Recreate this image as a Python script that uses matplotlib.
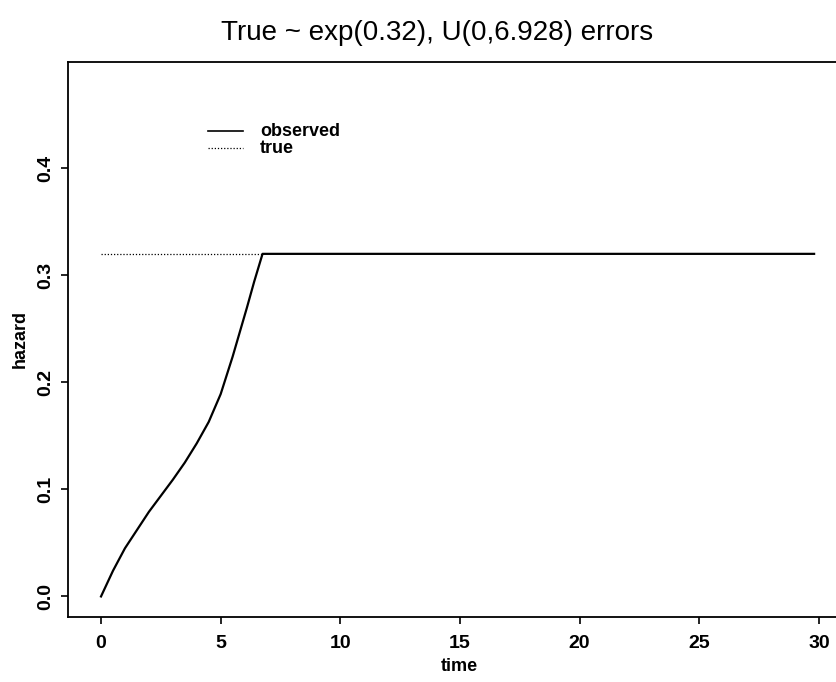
import matplotlib
matplotlib.use("Agg")
import matplotlib.pyplot as plt

plt.rcParams['font.family'] = ['Liberation Sans', 'DejaVu Sans']

# observed hazard
obs_time = [0, 0.5, 1.0, 1.5, 2.0, 2.5, 3.0, 3.5, 4.0, 4.5, 5.0, 5.5, 5.8, 6.1,
            6.4, 6.75, 29.8]
obs_hazard = [0, 0.024, 0.045, 0.062, 0.079, 0.094, 0.109, 0.125, 0.143, 0.163,
              0.189, 0.224, 0.247, 0.270, 0.294, 0.32, 0.32]

# true hazard (constant)
true_time = [0, 6.75]
true_hazard = [0.32, 0.32]

x_ticks = [0, 5, 10, 15, 20, 25, 30]
y_ticks = [0.0, 0.1, 0.2, 0.3, 0.4]

fig = plt.figure(figsize=(8.37, 6.82), dpi=100)
# right edge of the box is cut off in the original
ax = fig.add_axes([68 / 837, 1 - 617 / 682, (850 - 68) / 837, (617 - 62) / 682])

ax.plot(obs_time, obs_hazard, color='black', linewidth=1.6)
ax.plot(true_time, true_hazard, color='black', linewidth=0.9, linestyle=(0, (1, 1.5)))

ax.set_xlim(-1.38, 31.3)
ax.set_ylim(-0.0192, 0.4992)
ax.set_xticks(x_ticks)
ax.set_xticklabels([str(v) for v in x_ticks], fontsize=14, fontweight='bold')
ax.set_yticks(y_ticks)
ax.set_yticklabels([f"{v:.1f}" for v in y_ticks], fontsize=14, fontweight='bold',
                   rotation=90, va='center')
ax.tick_params(direction='out', length=5, width=1.2, pad=8)
ax.tick_params(axis='y', pad=5)
for s in ax.spines.values():
    s.set_linewidth(1.3)

ax.set_xlabel('time', fontsize=13, fontweight='bold', labelpad=4)
ax.set_ylabel('hazard', fontsize=13, fontweight='bold', labelpad=6)

fig.text(437 / 837, 1 - 33 / 682, 'True ~ exp(0.32), U(0,6.928) errors',
         ha='center', va='center', fontsize=20)

# legend drawn by hand like R's legend()
ax.plot([4.47, 5.93], [0.4345, 0.4345], color='black', linewidth=1.2)
ax.plot([4.47, 5.93], [0.4185, 0.4185], color='black', linewidth=0.9,
        linestyle=(0, (1, 1.5)))
ax.text(6.64, 0.4345, 'observed', fontsize=13, fontweight='bold', va='center')
ax.text(6.64, 0.4185, 'true', fontsize=13, fontweight='bold', va='center')

fig.savefig('out.png', dpi=100)
